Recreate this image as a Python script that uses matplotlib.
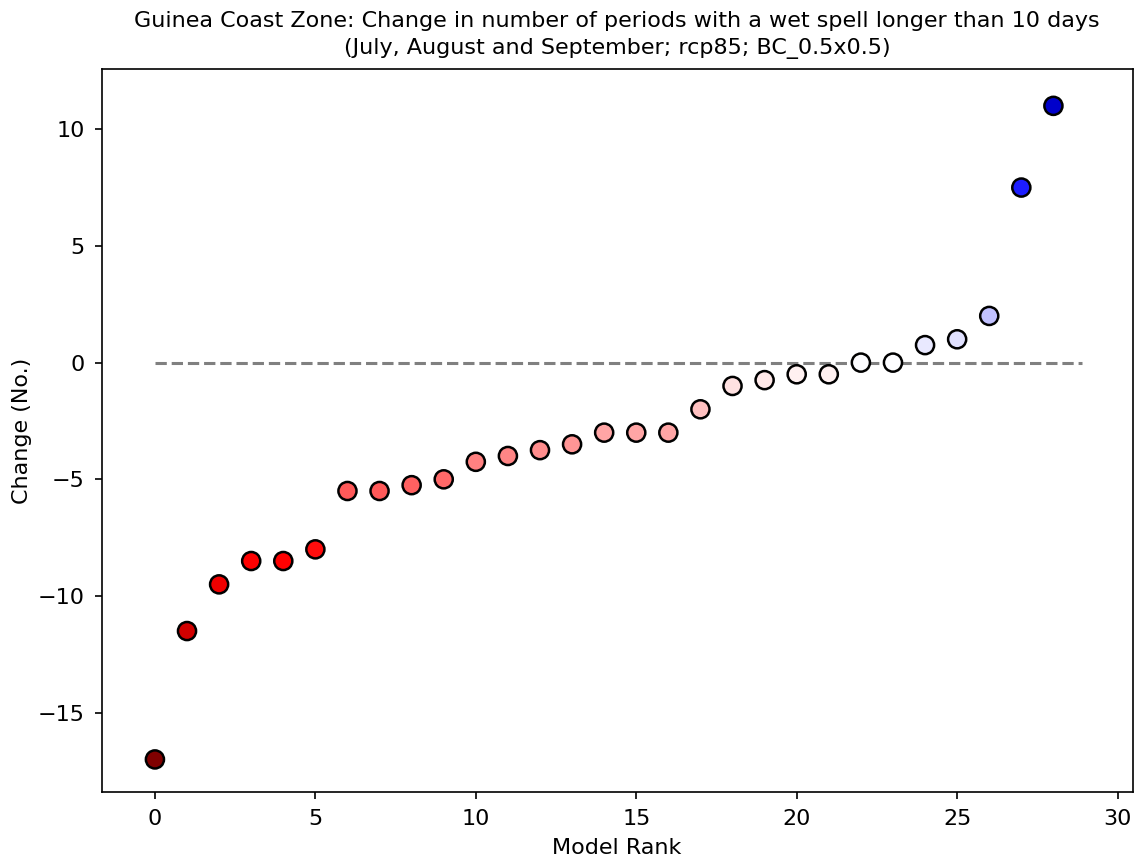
import matplotlib
matplotlib.use('Agg')
import matplotlib.pyplot as plt
import matplotlib.colors as mcolors
import numpy as np

# Model ranks and the change in number of wet-spell periods (> 10 days)
model_rank = list(range(29))
change = [-17, -11.5, -9.5, -8.5, -8.5, -8, -5.5, -5.5, -5.25, -5,
          -4.25, -4, -3.75, -3.5, -3, -3, -3, -2, -1, -0.75,
          -0.5, -0.5, 0, 0, 0.75, 1, 2, 7.5, 11]

title = ('Guinea Coast Zone: Change in number of periods with a wet spell longer than 10 days\n'
         '(July, August and September; rcp85; BC_0.5x0.5)')

plt.rcParams['font.size'] = 16

fig = plt.figure(figsize=(11.41, 8.59), dpi=100)
ax = fig.add_axes([0.0891, 0.0776, 0.9036, 0.8421])

# symmetric colour scale: reds below zero, blues above
vmax = max(abs(min(change)), abs(max(change)))
norm = mcolors.Normalize(vmin=-vmax, vmax=vmax)

ax.hlines(0, 0, len(model_rank) - 0.1, colors='grey', linestyles='--', linewidth=2.2, zorder=1)
ax.scatter(model_rank, change, c=change, cmap='seismic_r', norm=norm,
           s=170, edgecolors='black', linewidths=1.8, zorder=2)

ax.set_xlim(-1.66, 30.47)
ax.set_ylim(-18.41, 12.58)
ax.set_xticks([0, 5, 10, 15, 20, 25, 30])
ax.set_yticks([-15, -10, -5, 0, 5, 10])

for spine in ax.spines.values():
    spine.set_linewidth(1.2)
ax.tick_params(width=1.2, length=5.25, pad=7, labelsize=16)

ax.set_xlabel('Model Rank', fontsize=16, labelpad=6)
ax.set_ylabel('Change (No.)', fontsize=16, labelpad=4)
ax.set_title(title, fontsize=16, pad=11, linespacing=1.4)

fig.savefig('out.png', dpi=100)
